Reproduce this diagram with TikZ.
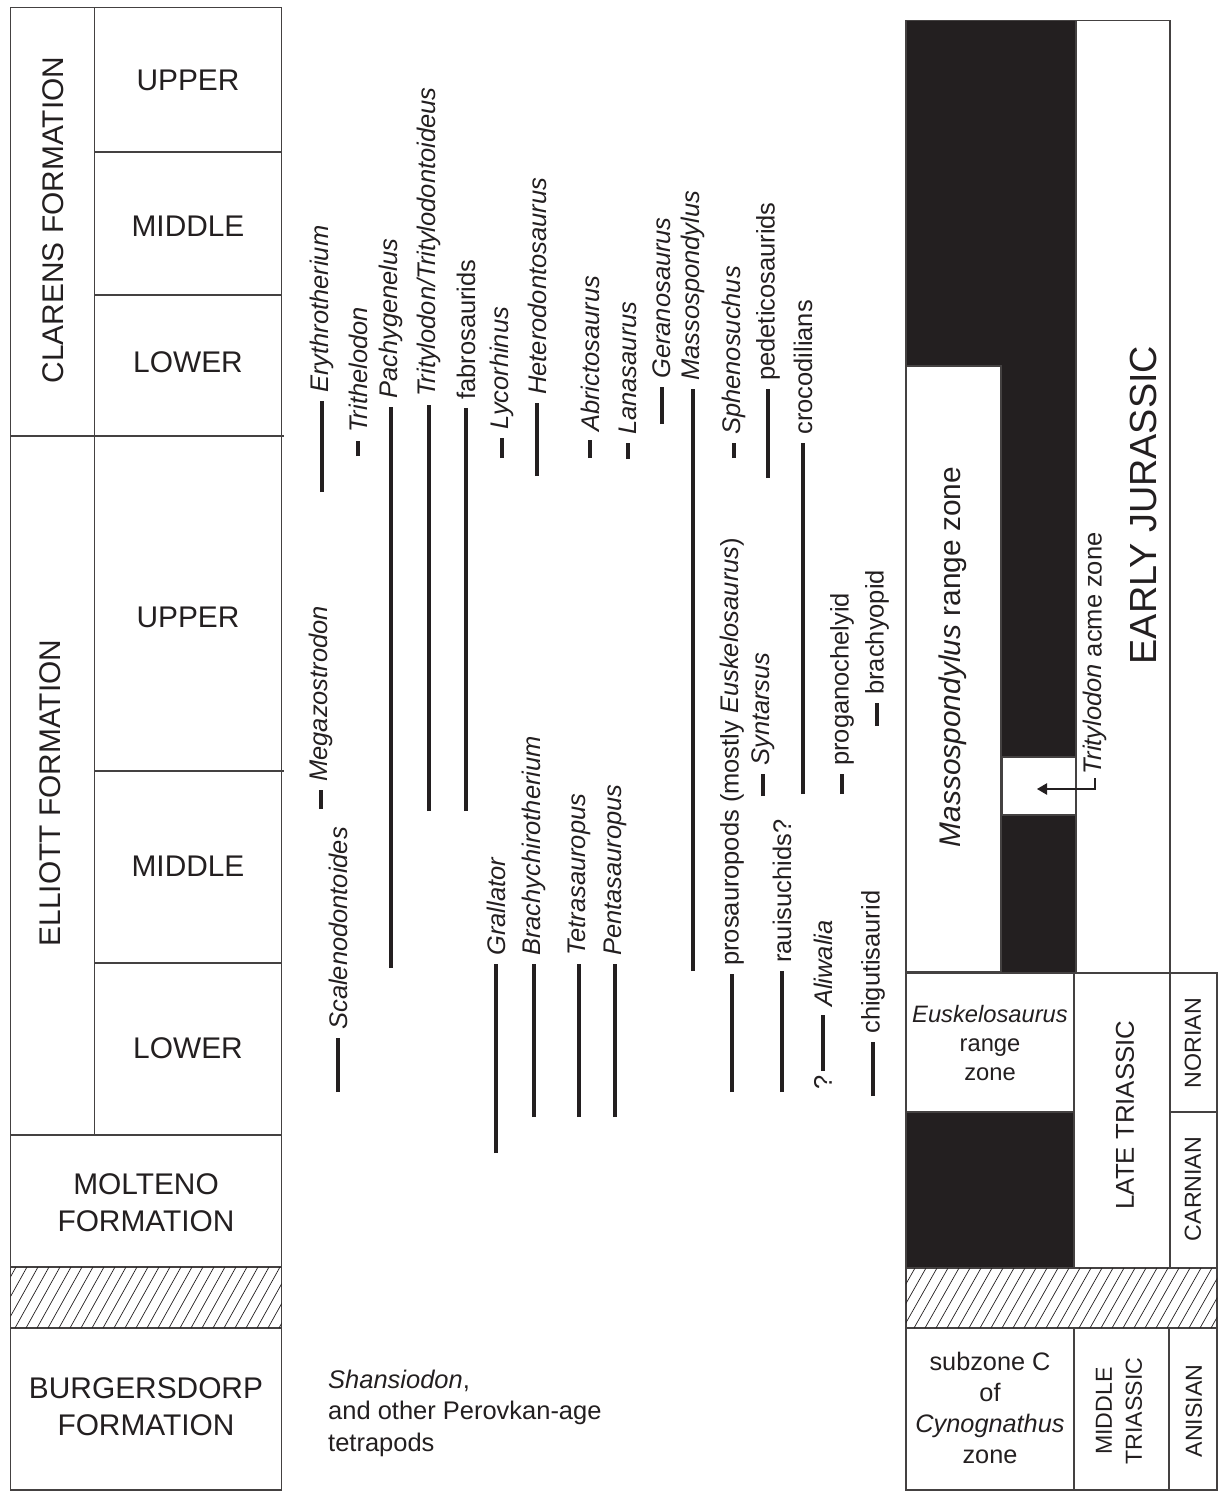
\documentclass[tikz,border=0pt]{standalone}
\usepackage{fontspec}
\setmainfont{Liberation Sans}
\usetikzlibrary{arrows.meta}
\definecolor{ink}{RGB}{35,31,32}
\tikzset{
  boxline/.style={draw=ink!85, line width=0.6pt},
  hatchline/.style={draw=ink, line width=0.4pt},
  rangebar/.style={draw=ink, line width=2.8pt},
  taxon/.style={rotate=90, anchor=west, text=ink, font=\fontsize{14.5}{17}\selectfont},
  unitlabel/.style={text=ink, align=center, font=\fontsize{17}{21}\selectfont},
  zonetext/.style={text=ink, align=center, font=\fontsize{14.4}{17.6}\selectfont},
  stagelabel/.style={rotate=90, text=ink, align=center, font=\fontsize{13.2}{17}\selectfont},
}
\begin{document}
\begin{tikzpicture}[x=0.02cm, y=-0.02cm]
      \useasboundingbox (0,0) rectangle (1218,1491);
      % formations
      \draw[boxline] (10.7,7.3) rectangle (281.7,1490);
      \draw[boxline] (94.7,7.3) -- (94.7,1135);
      \draw[boxline] (94.7,152) -- (281.7,152);
      \draw[boxline] (94.7,295) -- (281.7,295);
      \draw[boxline] (10.7,436) -- (284,436);
      \draw[boxline] (94.7,771) -- (284,771);
      \draw[boxline] (94.7,963) -- (281.7,963);
      \draw[boxline] (10.7,1135) -- (281.7,1135);
      \draw[boxline] (10.7,1267) -- (281.7,1267);
      \draw[boxline] (10.7,1328) -- (281.7,1328);
      \begin{scope}
        \clip (10.7,1267) rectangle (281.7,1328);
        \foreach \i in {-40,-29,...,300}
          \draw[hatchline] (\i,1328) -- (\i+34,1267);
      \end{scope}
      \node[unitlabel, rotate=90] (clarens) at (53,220) {CLARENS FORMATION};
      \node[unitlabel, rotate=90] (elliott) at (50,793) {ELLIOTT FORMATION};
      \node[unitlabel] (cu) at (188,80) {UPPER};
      \node[unitlabel] (cm) at (188,226) {MIDDLE};
      \node[unitlabel] (cl) at (188,362) {LOWER};
      \node[unitlabel] (eu) at (188,617) {UPPER};
      \node[unitlabel] (em) at (188,866) {MIDDLE};
      \node[unitlabel] (el) at (188,1048) {LOWER};
      \node[unitlabel] (molteno) at (146,1203) {MOLTENO\\FORMATION};
      \node[unitlabel] (burgers) at (146,1407) {BURGERSDORP\\FORMATION};
      % ranges
      \draw[rangebar] (322,492) -- (322,401) node[taxon] (ery) {\textit{Erythrotherium}};
      \draw[rangebar] (358,456) -- (358,441) node[taxon] (tri) {\textit{Trithelodon}};
      \draw[rangebar] (391,968) -- (391,407) node[taxon] (pac) {\textit{Pachygenelus}};
      \draw[rangebar] (429,811) -- (429,405) node[taxon] (trt) {\textit{Tritylodon/Tritylodontoideus}};
      \draw[rangebar] (466,811) -- (466,408) node[taxon] (fab) {fabrosaurids};
      \draw[rangebar] (502,458) -- (502,438) node[taxon] (lyc) {\textit{Lycorhinus}};
      \draw[rangebar] (537,476) -- (537,403) node[taxon] (het) {\textit{Heterodontosaurus}};
      \draw[rangebar] (590,458) -- (590,440) node[taxon] (abr) {\textit{Abrictosaurus}};
      \draw[rangebar] (628,459) -- (628,443) node[taxon] (lan) {\textit{Lanasaurus}};
      \draw[rangebar] (662,424) -- (662,387) node[taxon] (ger) {\textit{Geranosaurus}};
      \draw[rangebar] (693,971) -- (693,389) node[taxon] (mas) {\textit{Massospondylus}};
      \draw[rangebar] (734,458) -- (734,443) node[taxon] (sph) {\textit{Sphenosuchus}};
      \draw[rangebar] (768,478) -- (768,389) node[taxon] (ped) {pedeticosaurids};
      \draw[rangebar] (803,794) -- (803,443) node[taxon] (cro) {crocodilians};
      \draw[rangebar] (321,809) -- (321,790) node[taxon] (meg) {\textit{Megazostrodon}};
      \draw[rangebar] (338,1092) -- (338,1038) node[taxon] (sca) {\textit{Scalenodontoides}};
      \draw[rangebar] (496,1153) -- (496,964) node[taxon] (gra) {\textit{Grallator}};
      \draw[rangebar] (534,1117) -- (534,964) node[taxon] (bra) {\textit{Brachychirotherium}};
      \draw[rangebar] (579,1117) -- (579,964) node[taxon] (tet) {\textit{Tetrasauropus}};
      \draw[rangebar] (615,1117) -- (615,964) node[taxon] (pen) {\textit{Pentasauropus}};
      \draw[rangebar] (732,1092) -- (732,974) node[taxon] (pro) {prosauropods (mostly \textit{Euskelosaurus})};
      \draw[rangebar] (763,796) -- (763,774) node[taxon] (syn) {\textit{Syntarsus}};
      \draw[rangebar] (782,1092) -- (782,971) node[taxon] (rau) {rauisuchids?};
      \draw[rangebar] (823,1071) -- (823,1015) node[taxon] (ali) {\textit{Aliwalia}};
      \node[taxon, anchor=east, inner sep=2pt] (aliq) at (823,1071) {?};
      \draw[rangebar] (842,794) -- (842,774) node[taxon] (prg) {proganochelyid};
      \draw[rangebar] (877,726) -- (877,703) node[taxon] (bry) {brachyopid};
      \draw[rangebar] (873,1096) -- (873,1042) node[taxon] (chi) {chigutisaurid};
      \node[anchor=west, align=left, text=ink, font=\fontsize{14.5}{17.9}\selectfont] (shan) at (322,1413)
        {\textit{Shansiodon},\\and other Perovkan-age\\tetrapods};
      % zones
      \fill[ink] (906,20.7) rectangle (1076,973);
      \fill[ink] (906,1112) rectangle (1074,1268);
      \draw[boxline, fill=white] (906,366) rectangle (1001,972);
      \draw[boxline, fill=white] (1002,757) rectangle (1076,815);
      \draw[boxline, fill=white] (906,973) rectangle (1074,1112);
      \draw[boxline] (906,20.7) rectangle (1170,973);
      \draw[boxline] (906,973) rectangle (1217,1490);
      \draw[boxline] (1076,20.7) -- (1076,973);
      \draw[boxline] (1074,973) -- (1074,1268);
      \draw[boxline] (1170,973) -- (1170,1268);
      \draw[boxline] (1170,1112) -- (1217,1112);
      \draw[boxline] (906,1268) -- (1217,1268);
      \draw[boxline] (906,1328) -- (1217,1328);
      \draw[boxline] (1074,1328) -- (1074,1490);
      \draw[boxline] (1169,1328) -- (1169,1490);
      \begin{scope}
        \clip (906,1268) rectangle (1217,1328);
        \foreach \i in {870,881,...,1220}
          \draw[hatchline] (\i,1328) -- (\i+34,1268);
      \end{scope}
      \node[unitlabel, rotate=90] (maszone) at (953,657) {\textit{Massospondylus} range zone};
      \node[taxon, inner sep=2pt] (acme) at (1095,778) {\textit{Tritylodon} acme zone};
      \coordinate (acmetip) at (1037,789);
      \draw[ink, line width=0.6pt, -{Triangle[length=5.7pt,width=6.5pt]}] (acme.west) |- (acmetip);
      \node[rotate=90, text=ink, font=\fontsize{21.5}{25}\selectfont] (early) at (1143,505) {EARLY JURASSIC};
      \node[stagelabel, font=\fontsize{14.7}{17}\selectfont] (late) at (1125,1115) {LATE TRIASSIC};
      \node[stagelabel] (nor) at (1193,1043) {NORIAN};
      \node[stagelabel] (car) at (1193,1189) {CARNIAN};
      \node[stagelabel] (mid) at (1119,1411) {MIDDLE\\TRIASSIC};
      \node[stagelabel] (ani) at (1194,1411) {ANISIAN};
      \node[zonetext, font=\fontsize{13.5}{16.4}\selectfont] (eus) at (990,1043) {\textit{Euskelosaurus}\\range\\zone};
      \node[zonetext] (cyn) at (990,1408) {subzone C\\of\\\textit{Cynognathus}\\zone};
    \end{tikzpicture}
\end{document}
